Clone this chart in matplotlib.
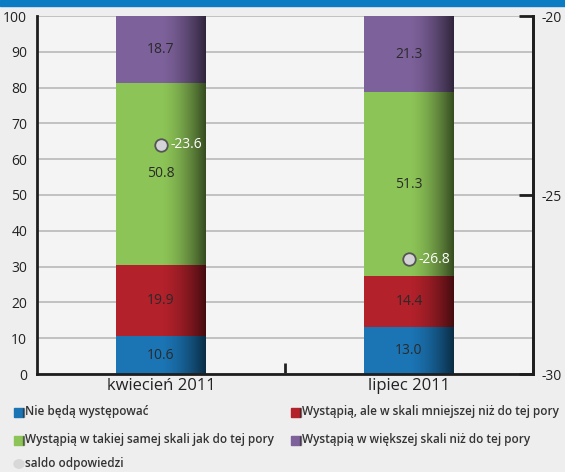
import numpy as np
import matplotlib
matplotlib.use("Agg")
import matplotlib.pyplot as plt
from matplotlib.patches import Rectangle, Circle

plt.rcParams['font.family'] = ['Open Sans', 'DejaVu Sans']

# Data
categories = ["kwiecień 2011", "lipiec 2011"]
series_names = [
    "Nie będą występować",
    "Wystąpią, ale w skali mniejszej niż do tej pory",
    "Wystąpią w takiej samej skali jak do tej pory",
    "Wystąpią w większej skali niż do tej pory",
]
nie_beda = [10.6, 13.0]
mniejsza = [19.9, 14.4]
taka_sama = [50.8, 51.3]
wieksza = [18.7, 21.3]
saldo = [-23.6, -26.8]
saldo_name = "saldo odpowiedzi"

colors = ["#1b74b4", "#b3212b", "#8dc457", "#7d619b"]
series = [nie_beda, mniejsza, taka_sama, wieksza]

W, H = 565, 472
fig = plt.figure(figsize=(W / 100, H / 100), dpi=100)
fig.patch.set_facecolor("#eeeeee")

# header strip
fig.patches.append(Rectangle((0, 1 - 6 / H), 1, 6 / H, transform=fig.transFigure,
                             color="#0a7cc4", zorder=0))

ax = fig.add_axes([37 / W, 1 - 374 / H, (533 - 37) / W, (374 - 16) / H])
ax.set_facecolor("#f4f4f4")

x = np.arange(len(categories))
bw = 0.36
gx = np.linspace(0, 1, 200)
ramp = np.where(gx > 0.5, ((gx - 0.5) / 0.5) ** 1.6 * 0.62, 0.0)
shade = np.zeros((1, gx.size, 4))
shade[..., 3] = ramp

bottom = np.zeros(len(categories))
for vals, col in zip(series, colors):
    bars = ax.bar(x, vals, bw, bottom=bottom, color=col, zorder=2, linewidth=0)
    for b, v, btm in zip(bars, vals, bottom):
        x0 = b.get_x()
        im = ax.imshow(shade, extent=(x0, x0 + b.get_width(), btm, btm + v),
                       aspect="auto", zorder=2.5, interpolation="bilinear")
        im.set_clip_path(b)
        ax.text(b.get_x() + b.get_width() / 2, btm + v / 2, f"{v:.1f}",
                ha="center", va="center", fontsize=10, color="#2a2a2a", zorder=4)
    bottom = bottom + np.array(vals)

ax.set_xlim(-0.5, 1.5)
ax.set_ylim(0, 100)
ax.set_yticks(np.arange(0, 101, 10))
ax.yaxis.grid(True, color="#b8b8b8", linewidth=1.2, zorder=1)
ax.set_axisbelow(True)
ax.tick_params(axis="y", length=0, pad=7, labelsize=10, labelcolor="#222222")
ax.set_xticks(x)
ax.set_xticklabels(categories, fontsize=12, color="#222222")
ax.tick_params(axis="x", length=0, pad=3)
ax.set_xticks([0.5], minor=True)
ax.tick_params(axis="x", which="minor", direction="in", length=8, width=2, color="#222222")

for s in ["left", "bottom", "right"]:
    ax.spines[s].set_linewidth(2)
    ax.spines[s].set_color("#1e1e1e")
ax.spines["top"].set_visible(False)

# secondary axis for balance
ax2 = ax.twinx()
ax2.set_ylim(-30, -20)
ax2.set_yticks([-30, -25, -20])
ax2.set_yticklabels(["-30", "-25", "-20"])
ax2.tick_params(axis="y", direction="in", length=10, width=2, color="#1e1e1e",
                pad=6, labelsize=10, labelcolor="#222222")
for s in ["left", "bottom", "top"]:
    ax2.spines[s].set_visible(False)
ax2.spines["right"].set_linewidth(2)
ax2.spines["right"].set_color("#1e1e1e")
ax2.plot(x, saldo, linestyle="none", marker="o", markersize=9,
         markerfacecolor="#d4d4d8", markeredgecolor="#555555",
         markeredgewidth=1.3, zorder=5)
for xi, s in zip(x, saldo):
    ax2.annotate(f"{s:.1f}", (xi, s), xytext=(7, 0), textcoords="offset points",
                 ha="left", va="center", color="white", fontsize=10, zorder=6)

# legend
def fx(px):
    return px / W

def fy(py):
    return 1 - py / H

legend_rows = [
    (412, [(14, colors[0], series_names[0]), (291, colors[1], series_names[1])]),
    (440, [(14, colors[2], series_names[2]), (291, colors[3], series_names[3])]),
]
for yy, items in legend_rows:
    for xx, col, name in items:
        fig.patches.append(Rectangle((fx(xx), fy(yy + 4.5)), 9 / W, 9 / H,
                                     transform=fig.transFigure, color=col))
        fig.patches.append(Rectangle((fx(xx + 8.5), fy(yy + 4.5)), 1.5 / W, 9 / H,
                                     transform=fig.transFigure, color="#222222", alpha=0.45))
        fig.text(fx(xx + 11), fy(yy), name, fontsize=8.5, fontweight="semibold",
                 color="#333333", ha="left", va="center")

fig.patches.append(Circle((fx(19), fy(464)), 5 / W, transform=fig.transFigure,
                          color="#d8d8d8"))
fig.text(fx(25), fy(464), saldo_name, fontsize=8.5, fontweight="semibold",
         color="#333333", ha="left", va="center")

fig.savefig("out.png", dpi=100, facecolor=fig.get_facecolor())
